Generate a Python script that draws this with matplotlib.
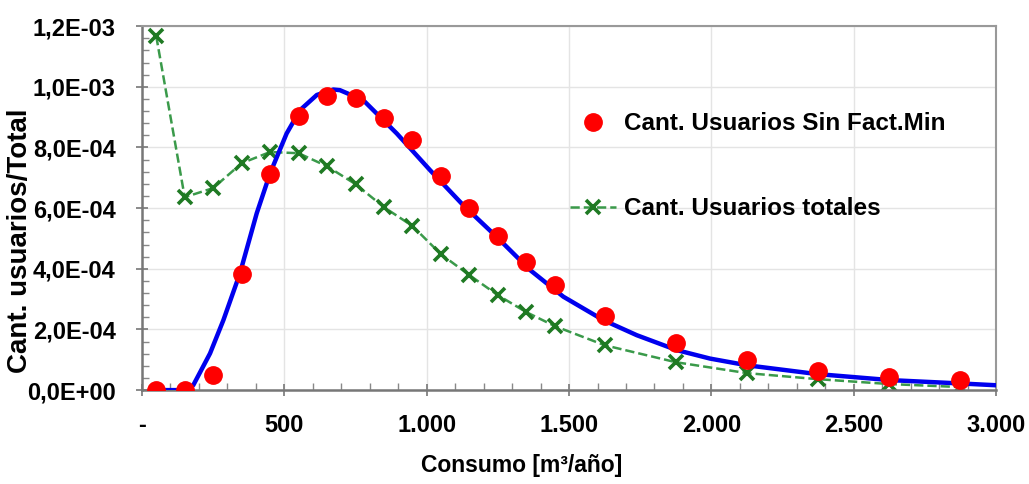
import matplotlib
matplotlib.use("Agg")
import matplotlib.pyplot as plt
from matplotlib.ticker import FuncFormatter, MultipleLocator

plt.rcParams['font.family'] = ['Liberation Sans', 'DejaVu Sans']
plt.rcParams['font.weight'] = 'bold'

# bin centres [m3/año]
consumo = [50, 150, 250, 350, 450, 550, 650, 750, 850, 950, 1050, 1150,
           1250, 1350, 1450, 1625, 1875, 2125, 2375, 2625, 2875]

# Cant. Usuarios Sin Fact.Min (red dots)
sin_fact_min = [0.0, 0.0, 5.0e-5, 3.82e-4, 7.12e-4, 9.03e-4, 9.70e-4, 9.63e-4,
                8.97e-4, 8.24e-4, 7.06e-4, 6.00e-4, 5.08e-4, 4.22e-4, 3.46e-4,
                2.44e-4, 1.55e-4, 9.9e-5, 6.3e-5, 4.3e-5, 3.3e-5]

# Cant. Usuarios totales (green crosses)
totales = [1.167e-3, 6.36e-4, 6.66e-4, 7.48e-4, 7.85e-4, 7.81e-4, 7.38e-4,
           6.79e-4, 6.03e-4, 5.41e-4, 4.48e-4, 3.79e-4, 3.13e-4, 2.57e-4,
           2.11e-4, 1.48e-4, 9.2e-5, 5.6e-5, 3.6e-5, 2.0e-5, 1.0e-5]

# fitted curve (blue)
ajuste_x = [50, 150, 180, 239, 286, 344, 403, 450, 508, 555, 614, 672, 695,
            777, 895, 1012, 1128, 1246, 1363, 1480, 1620, 1738, 1878, 1995,
            2124, 2370, 2627, 2873, 3000]
ajuste_y = [0.0, 0.0, 1.6e-5, 1.21e-4, 2.31e-4, 3.85e-4, 5.83e-4, 7.15e-4,
            8.46e-4, 9.23e-4, 9.73e-4, 9.91e-4, 9.89e-4, 9.56e-4, 8.46e-4,
            7.25e-4, 6.10e-4, 5.05e-4, 3.96e-4, 3.08e-4, 2.31e-4, 1.81e-4,
            1.32e-4, 1.04e-4, 8.2e-5, 5.3e-5, 3.3e-5, 2.2e-5, 1.6e-5]

fig = plt.figure(figsize=(10.29, 4.84), dpi=100)
ax = fig.add_axes([0.138, 0.194, 0.830, 0.752])

ax.plot(ajuste_x, ajuste_y, color='#0000ee', lw=3.2, zorder=3)
ax.plot(consumo, totales, color='#3a9a4a', ls='--', lw=1.8, marker='x',
        markersize=10, mew=2.6, mec='#1f7a23', zorder=2,
        label='Cant. Usuarios totales')
ax.plot(consumo, sin_fact_min, ls='none', marker='o', markersize=12.5,
        color='#ff0000', zorder=4, label='Cant. Usuarios Sin Fact.Min')

ax.set_xlim(0, 3000)
ax.set_ylim(0, 1.2e-3)
ax.xaxis.set_major_locator(MultipleLocator(500))
ax.xaxis.set_minor_locator(MultipleLocator(100))
ax.yaxis.set_major_locator(MultipleLocator(2e-4))
ax.yaxis.set_minor_locator(MultipleLocator(4e-5))


def fmt_x(v, pos):
    if v == 0:
        return '-'
    return f'{int(v):,}'.replace(',', '.')


def fmt_y(v, pos):
    s = f'{v:.1E}'
    return s.replace('.', ',')


ax.xaxis.set_major_formatter(FuncFormatter(fmt_x))
ax.yaxis.set_major_formatter(FuncFormatter(fmt_y))

ax.tick_params(which='major', direction='inout', length=8, width=1.2,
               color='#777777', labelsize=17)
ax.tick_params(axis='x', which='major', pad=13)
ax.tick_params(axis='y', which='major', pad=15)
ax.tick_params(which='minor', direction='in', length=5, width=1,
               color='#888888')
for lab in ax.get_xticklabels() + ax.get_yticklabels():
    lab.set_fontweight('bold')

ax.grid(True, which='major', color='#e4e4e4', lw=1)
ax.set_axisbelow(True)
for side in ['left', 'bottom']:
    ax.spines[side].set_color('#777777')
    ax.spines[side].set_linewidth(1.8)
for side in ['top', 'right']:
    ax.spines[side].set_color('#999999')
    ax.spines[side].set_linewidth(1.5)

ax.set_xlabel('Consumo [m³/año]', fontsize=16.5, fontweight='bold')
ax.xaxis.set_label_coords(0.445, -0.175)
ax.set_ylabel('Cant. usuarios/Total', fontsize=20, fontweight='bold')
ax.yaxis.set_label_coords(-0.128, 0.41)

handles, labels = ax.get_legend_handles_labels()
ax.legend(handles[::-1], labels[::-1], loc='upper left',
          bbox_to_anchor=(0.554, 0.768), bbox_transform=fig.transFigure,
          frameon=False, fontsize=17.5, borderpad=0, labelspacing=2.55,
          handlelength=1.9, handletextpad=0.3, borderaxespad=0)

fig.savefig('out.png', dpi=100)
